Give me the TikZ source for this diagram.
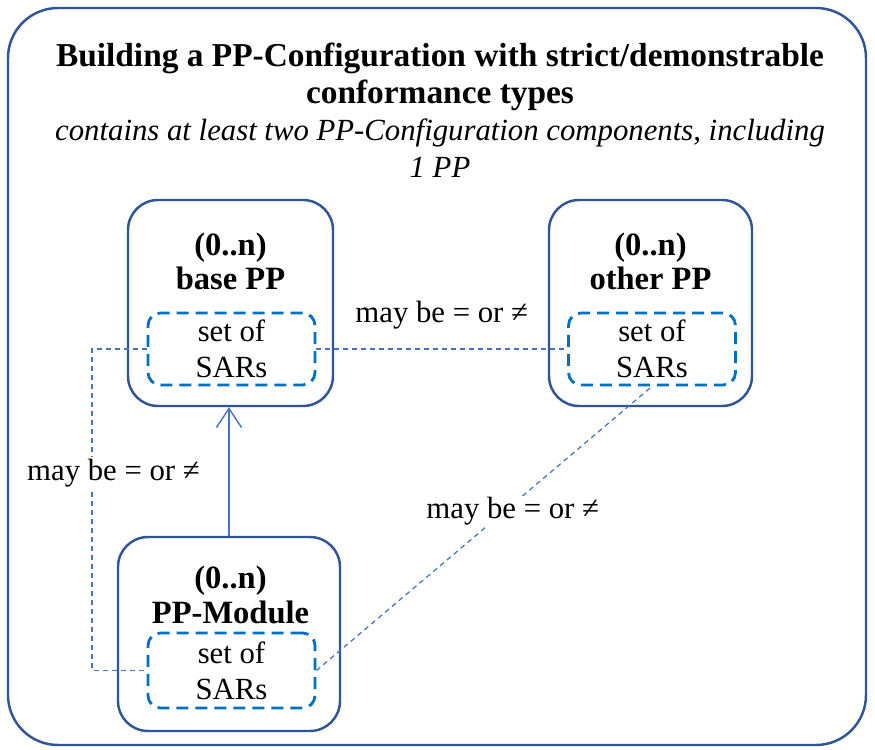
\documentclass[tikz,border=0pt]{standalone}
\usepackage{fontspec}
\setmainfont{Liberation Serif}
\usetikzlibrary{arrows.meta, positioning}
\definecolor{framecol}{RGB}{47,85,151}
\definecolor{sarcol}{RGB}{0,112,192}
\definecolor{linkcol}{RGB}{68,114,196}
\tikzstyle{component} = [rectangle, rounded corners=0.6cm, draw=framecol, line width=1.4pt, align=center]
\tikzstyle{sarset} = [rectangle, rounded corners=0.25cm, draw=sarcol, line width=1.6pt, dash pattern=on 0.24cm off 0.14cm, align=center, minimum width=3.34cm, minimum height=1.44cm, inner sep=0pt]
\tikzstyle{heading} = [font=\fontsize{18.5}{19.5}\selectfont\bfseries, align=center]
\tikzstyle{link} = [draw=linkcol, line width=0.7pt, dash pattern=on 0.1cm off 0.08cm]
\tikzstyle{arrow} = [draw=linkcol, line width=0.8pt, -{Straight Barb[length=0.38cm,width=0.5cm]}]
\tikzstyle{relation} = [fill=white, inner sep=1pt]

\begin{document}
\fontsize{17.5}{20.5}\selectfont
\begin{tikzpicture}
\useasboundingbox (0,0) rectangle (17.5,14.98);

\node (frame) [rectangle, rounded corners=1cm, draw=framecol, line width=1.4pt, minimum width=17.16cm, minimum height=14.74cm] at (8.74,7.45) {};
\node (title) [align=center, font=\fontsize{17.5}{21}\selectfont] at (8.8,12.78) {{\fontsize{19}{21}\selectfont\bfseries Building a PP-Configuration with strict/demonstrable}\\{\fontsize{19}{21}\selectfont\bfseries conformance types}\\\textit{contains at least two PP-Configuration components, including}\\\textit{1 PP}};

\node (base) [component, minimum width=4.1cm, minimum height=4.12cm] at (4.61,8.92) {};
\node (baseHead) [heading] at (4.61,9.75) {(0..n)\\base PP};
\node (baseSAR) [sarset] at (4.63,8.0) {set of\\SARs};

\node (other) [component, minimum width=4.06cm, minimum height=4.12cm] at (13.01,8.92) {};
\node (otherHead) [heading] at (13.01,9.75) {(0..n)\\other PP};
\node (otherSAR) [sarset] at (13.04,8.0) {set of\\SARs};

\node (module) [component, minimum width=4.44cm, minimum height=3.88cm] at (4.58,2.3) {};
\node (moduleHead) [heading] at (4.61,3.08) {(0..n)\\PP-Module};
\node (moduleSAR) [sarset, minimum height=1.5cm] at (4.63,1.57) {set of\\SARs};

\coordinate (bend) at (1.84,8.0);

\draw [arrow] (module.north) -- (module.north |- base.south);
\draw [link] (baseSAR.east) -- node[above=0.18cm] (relTop) {may be = or ≠} (otherSAR.west);
\draw [link] (baseSAR.west) -- (bend) |- (moduleSAR.west);
\draw [link] (moduleSAR.east) -- node[relation, pos=0.585, yshift=-0.14cm] (relDiag) {may be = or ≠} (otherSAR.south);
\node (relLeft) [relation] at (2.27,5.52) {may be = or ≠};

\end{tikzpicture}
\end{document}
